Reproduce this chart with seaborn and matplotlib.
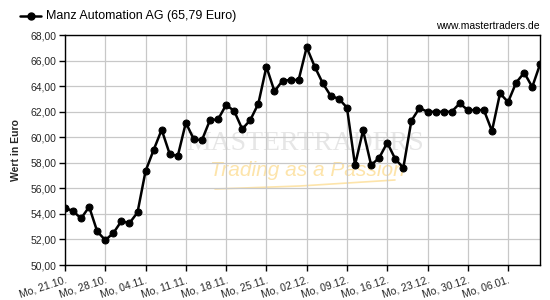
import matplotlib
matplotlib.use("Agg")
import matplotlib.pyplot as plt
import matplotlib.transforms as mtransforms
from matplotlib.lines import Line2D
import seaborn as sns
import pandas as pd
import numpy as np

# ---- data ----
title_text = "Manz Automation AG (65,79 Euro)"
source_text = "www.mastertraders.de"
y_label = "Wert in Euro"
prices = [54.48, 54.22, 53.65, 54.56, 52.63, 51.95, 52.50, 53.44, 53.28, 54.12,
          57.36, 59.01, 60.60, 58.69, 58.54, 61.15, 59.84, 59.79, 61.36, 61.41,
          62.55, 62.07, 60.65, 61.36, 62.64, 65.54, 63.61, 64.44, 64.50, 64.50,
          67.06, 65.54, 64.24, 63.24, 63.03, 62.33, 57.83, 60.55, 57.83, 58.40,
          59.58, 58.30, 57.62, 61.31, 62.30, 62.01, 62.01, 62.01, 62.01, 62.67,
          62.14, 62.14, 62.14, 60.50, 63.45, 62.77, 64.29, 65.07, 63.95, 65.79]
x_tick_labels = ["Mo, 21.10.", "Mo, 28.10.", "Mo, 04.11.", "Mo, 11.11.", "Mo, 18.11.",
                 "Mo, 25.11.", "Mo, 02.12.", "Mo, 09.12.", "Mo, 16.12.", "Mo, 23.12.",
                 "Mo, 30.12.", "Mo, 06.01."]
y_ticks = [50, 52, 54, 56, 58, 60, 62, 64, 66, 68]
y_tick_labels = ["50,00", "52,00", "54,00", "56,00", "58,00", "60,00", "62,00",
                 "64,00", "66,00", "68,00"]

df = pd.DataFrame({"day": np.arange(len(prices)), "price": prices})

sns.set_theme(style="white")
plt.rcParams["font.family"] = ["Liberation Sans", "DejaVu Sans"]

W, H = 550, 300
fig = plt.figure(figsize=(5.5, 3.0), dpi=100)
ax = fig.add_axes([65 / W, 1 - 265 / H, (540.3 - 65) / W, (265 - 35.3) / H])


def fx(px):
    return px / W


def fy(py):
    return 1 - py / H


# ---- watermark (decorative, behind grid) ----
wm_gray = "#e6e6e6"
wm_yellow = "#fde4aa"
serif = ["Liberation Serif", "DejaVu Serif"]
ax.text(fx(305), fy(143), "MASTERTRADERS", fontsize=20, color=wm_gray, family=serif,
        ha="center", va="center", transform=fig.transFigure, zorder=0.2)
ax.text(fx(307), fy(171), "Trading as a Passion", fontsize=15, color=wm_yellow,
        style="italic", ha="center", va="center", transform=fig.transFigure, zorder=0.2)
ax.add_line(Line2D([fx(215), fx(300), fx(395)], [fy(189), fy(186), fy(180)],
                   color=wm_yellow, linewidth=1.2, transform=fig.transFigure, zorder=0.2))

sns.lineplot(data=df, x="day", y="price", ax=ax, color="black", linewidth=1.8,
             marker="o", markersize=5, markeredgecolor="black", markerfacecolor="black",
             zorder=3)

ax.set_xlim(0, len(prices) - 1)
ax.set_ylim(50, 68)
ax.set_yticks(y_ticks)
ax.set_yticklabels(y_tick_labels, fontsize=7.5)
ax.set_xticks(np.arange(0, len(prices), 5)[:len(x_tick_labels)])
ax.set_xticklabels(x_tick_labels, fontsize=7.5, rotation=18, ha="right",
                   rotation_mode="anchor")
shift = mtransforms.ScaledTranslation(3.5 / 100, 0, fig.dpi_scale_trans)
for lbl in ax.get_xticklabels():
    lbl.set_transform(lbl.get_transform() + shift)
ax.set_xlabel("")
ax.set_ylabel(y_label, fontsize=7.5, fontweight="bold", labelpad=7)

ax.grid(True, color="#c8c8c8", linewidth=0.9, zorder=0.5)
ax.set_axisbelow(True)
for s in ax.spines.values():
    s.set_color("black")
    s.set_linewidth(1.0)
ax.tick_params(axis="both", direction="out", length=4, width=1, color="black",
               pad=2, bottom=True, left=True)
ax.tick_params(axis="x", pad=3)

# legend-like header
fig.add_artist(Line2D([fx(20), fx(41)], [fy(16), fy(16)], color="black", linewidth=1.8))
fig.add_artist(Line2D([fx(30.5)], [fy(16)], color="black", marker="o",
                      markersize=5, linestyle="none"))
fig.text(fx(46), fy(16), title_text, fontsize=9, va="center", ha="left", color="black")
fig.text(fx(540), fy(26), source_text, fontsize=7.5, va="center", ha="right",
         color="black")

fig.savefig("out.png", dpi=100, facecolor="white")
